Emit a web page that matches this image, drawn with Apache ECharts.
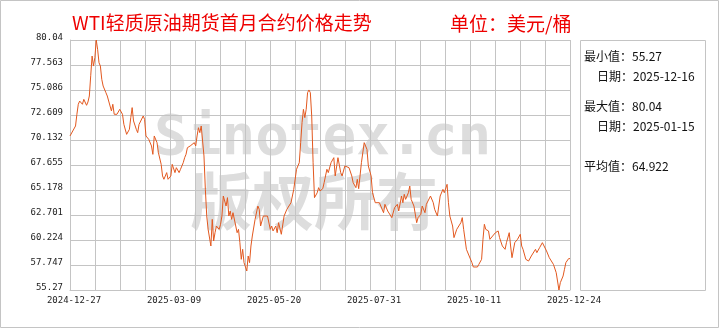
<!DOCTYPE html>
<html><head><meta charset="utf-8">
<script src="https://cdn.jsdelivr.net/npm/echarts@6/dist/echarts.min.js"></script>
<style>html,body{margin:0;padding:0;background:#fff}#c{width:720px;height:330px}</style>
</head><body><div id="c"></div>
<script>
const titleText = 'WTI轻质原油期货首月合约价格走势';
const unitText = '单位：美元/桶';
const watermarkTexts = ['Sinotex.cn', '版权所有'];
const statLabels = ['最小值：55.27', '日期：2025-12-16', '最大值：80.04', '日期：2025-01-15', '平均值：64.922'];
const xTickLabels = ['2024-12-27', '2025-03-09', '2025-05-20', '2025-07-31', '2025-10-11', '2025-12-24'];
const yMin = 55.27, yMax = 80.04, ySteps = 10;

const dates = [
'2024-12-27','2024-12-31',
'2025-01-01','2025-01-02','2025-01-03','2025-01-05','2025-01-06','2025-01-08','2025-01-09','2025-01-10','2025-01-11','2025-01-12','2025-01-13','2025-01-14','2025-01-15','2025-01-16','2025-01-17','2025-01-18','2025-01-19','2025-01-20','2025-01-22','2025-01-23','2025-01-25','2025-01-26','2025-01-27','2025-01-28','2025-01-30','2025-01-31',
'2025-02-01','2025-02-03','2025-02-04','2025-02-06','2025-02-07','2025-02-08','2025-02-09','2025-02-10','2025-02-11','2025-02-13','2025-02-14','2025-02-15','2025-02-16','2025-02-18','2025-02-19','2025-02-20','2025-02-22','2025-02-24','2025-02-25','2025-02-26','2025-02-28',
'2025-03-01','2025-03-03','2025-03-04','2025-03-05','2025-03-06','2025-03-07','2025-03-08','2025-03-09','2025-03-10','2025-03-11','2025-03-13','2025-03-14','2025-03-15','2025-03-16','2025-03-17','2025-03-19','2025-03-20','2025-03-21','2025-03-22','2025-03-24','2025-03-25','2025-03-27','2025-03-28','2025-03-29','2025-03-30','2025-03-31',
'2025-04-01','2025-04-02','2025-04-03','2025-04-04','2025-04-05','2025-04-06','2025-04-08','2025-04-09','2025-04-10','2025-04-11','2025-04-12','2025-04-14','2025-04-15','2025-04-16','2025-04-17','2025-04-19','2025-04-20','2025-04-21','2025-04-22','2025-04-23','2025-04-24','2025-04-26','2025-04-27','2025-04-28','2025-04-29','2025-04-30',
'2025-05-01','2025-05-02','2025-05-04','2025-05-05','2025-05-06','2025-05-07','2025-05-08','2025-05-10','2025-05-12','2025-05-13','2025-05-14','2025-05-16','2025-05-17','2025-05-19','2025-05-21','2025-05-22','2025-05-23','2025-05-25','2025-05-26','2025-05-27','2025-05-29','2025-05-31',
'2025-06-02','2025-06-03','2025-06-05','2025-06-07','2025-06-08','2025-06-09','2025-06-11','2025-06-12','2025-06-13','2025-06-14','2025-06-15','2025-06-16','2025-06-17','2025-06-18','2025-06-19','2025-06-20','2025-06-21','2025-06-22','2025-06-24','2025-06-25','2025-06-26','2025-06-28','2025-06-29',
'2025-07-01','2025-07-02','2025-07-04','2025-07-06','2025-07-07','2025-07-09','2025-07-11','2025-07-12','2025-07-14','2025-07-17','2025-07-19','2025-07-20','2025-07-22','2025-07-23','2025-07-24','2025-07-26','2025-07-28','2025-07-30','2025-07-31',
'2025-08-02','2025-08-03','2025-08-05','2025-08-08','2025-08-11','2025-08-12','2025-08-14','2025-08-15','2025-08-17','2025-08-19','2025-08-21','2025-08-22','2025-08-24','2025-08-25','2025-08-26','2025-08-27','2025-08-29','2025-08-30','2025-08-31',
'2025-09-02','2025-09-04','2025-09-05','2025-09-07','2025-09-08','2025-09-10','2025-09-11','2025-09-14','2025-09-16','2025-09-17','2025-09-19','2025-09-21','2025-09-23','2025-09-24','2025-09-26','2025-09-27','2025-09-28','2025-09-30',
'2025-10-01','2025-10-03','2025-10-06','2025-10-07','2025-10-08','2025-10-10','2025-10-11','2025-10-12','2025-10-14','2025-10-15','2025-10-18','2025-10-19','2025-10-21','2025-10-22','2025-10-23','2025-10-24','2025-10-26','2025-10-27','2025-10-29','2025-10-31',
'2025-11-02','2025-11-03','2025-11-05','2025-11-07','2025-11-08','2025-11-10','2025-11-11','2025-11-12','2025-11-14','2025-11-16','2025-11-18','2025-11-19','2025-11-20','2025-11-22','2025-11-23','2025-11-24','2025-11-26','2025-11-27','2025-11-29','2025-11-30',
'2025-12-02','2025-12-04','2025-12-05','2025-12-07','2025-12-09','2025-12-10','2025-12-12','2025-12-13','2025-12-14','2025-12-16','2025-12-17','2025-12-19','2025-12-20','2025-12-21','2025-12-23','2025-12-24'
];
const prices = [
70.53,71.52,
72.68,73.67,73.99,73.67,74.16,73.57,73.90,74.49,76.50,78.45,77.46,78.30,80.04,79.12,77.79,77.46,76.14,75.48,74.82,74.49,73.50,73.01,73.67,72.68,72.68,72.84,
73.17,72.68,71.68,70.69,70.53,71.19,72.35,73.34,72.02,71.19,70.86,71.68,71.52,72.51,72.18,70.53,70.20,69.54,68.71,70.53,69.87,
68.88,67.72,66.57,66.24,66.40,66.90,66.24,66.07,66.57,67.72,66.90,67.39,67.56,66.90,67.23,67.89,68.38,68.71,69.37,69.54,69.70,69.87,69.54,70.53,71.35,70.86,
71.52,71.68,68.55,65.24,62.60,61.28,59.63,62.27,60.13,60.95,61.61,61.28,61.78,62.60,64.58,63.59,64.42,62.60,63.10,62.27,62.93,61.61,60.95,61.28,59.96,58.31,
59.30,57.98,57.15,58.64,57.98,59.63,60.62,62.27,63.59,63.26,61.61,62.60,62.77,62.60,61.28,61.61,61.12,61.61,60.95,61.94,60.79,62.60,
63.26,63.10,63.92,65.24,65.08,67.23,67.89,69.87,71.85,73.17,72.35,73.17,74.82,75.09,74.82,72.51,67.89,64.42,64.91,65.41,65.08,65.31,65.91,
67.23,66.90,67.89,68.38,66.57,68.38,66.90,66.57,67.56,67.39,66.57,65.91,65.41,66.24,65.31,67.89,69.87,69.21,67.56,
66.57,64.91,63.92,63.92,62.93,63.76,63.10,63.26,62.44,63.43,63.76,63.10,64.58,63.92,64.75,64.25,64.91,65.57,64.25,
63.59,61.94,62.44,62.77,63.59,62.93,63.76,64.58,63.92,63.26,62.60,64.58,65.24,64.91,65.74,63.92,62.60,61.61,
60.46,61.28,61.94,62.44,61.28,59.30,59.47,58.64,57.98,57.55,57.55,57.81,58.31,60.29,61.78,61.28,61.12,60.29,60.62,60.95,
61.12,60.46,59.63,59.30,59.96,60.95,59.63,58.47,59.96,60.29,60.79,59.63,59.30,58.31,58.47,58.14,58.64,58.80,59.30,58.97,
59.47,59.96,60.13,59.14,58.47,58.31,57.81,57.65,56.99,55.27,56.00,56.66,57.32,57.98,58.38,58.38
];

const DAY = 86400000;
const t0 = Date.parse(xTickLabels[0]);
const tEnd = Date.parse(xTickLabels[xTickLabels.length - 1]);
const spanDays = (tEnd - t0) / DAY;
const xStep = spanDays / 20;
const yStep = (yMax - yMin) / ySteps;
const seriesData = dates.map((d, i) => [(Date.parse(d) - t0) / DAY, +(prices[i] - yMin).toFixed(4)]);

const gridColor = '#c4c4c4';
const chart = echarts.init(document.getElementById('c'), null, {renderer: 'canvas'});
const txt = (text, x, y, font, fill, z) => ({
  type: 'text', x: x, y: y, z: z || 10, silent: true,
  style: {text: text, font: font, fill: fill, align: 'left', verticalAlign: 'middle', textAlign: 'left', textVerticalAlign: 'middle'}
});
chart.setOption({
  animation: false,
  backgroundColor: '#fff',
  grid: {left: 70, top: 40, width: 500, height: 250, show: false},
  xAxis: {
    type: 'value', min: 0, max: spanDays, interval: xStep,
    axisLine: {show: true, lineStyle: {color: gridColor, width: 1}},
    axisTick: {show: false},
    splitLine: {show: true, lineStyle: {color: gridColor, width: 1}},
    axisLabel: {
      interval: 0, hideOverlap: false, showMinLabel: true, showMaxLabel: true,
      margin: 6, color: '#222', fontSize: 9, fontFamily: 'DejaVu Sans Mono',
      padding: [0, 0, 0, 8],
      formatter: v => { const i = Math.round(v / xStep); return i % 4 === 0 ? (xTickLabels[i / 4] || '') : ''; }
    }
  },
  yAxis: {
    type: 'value', min: 0, max: +(yMax - yMin).toFixed(4), interval: yStep,
    axisLine: {show: true, lineStyle: {color: gridColor, width: 1}},
    axisTick: {show: false},
    splitLine: {show: true, lineStyle: {color: gridColor, width: 1}},
    axisLabel: {
      margin: 7, color: '#222', fontSize: 9, fontFamily: 'DejaVu Sans Mono',
      verticalAlign: 'bottom', lineHeight: 5, showMinLabel: true, showMaxLabel: true,
      formatter: v => String(+(v + yMin).toFixed(3))
    }
  },
  series: [{
    type: 'line', data: seriesData, showSymbol: false, symbol: 'none',
    lineStyle: {color: '#E2581F', width: 1}, z: 5
  }],
  graphic: {elements: [
    {type: 'rect', z: -5, silent: true, shape: {x: 0.5, y: 0.5, width: 718, height: 327}, style: {fill: '#fff', stroke: gridColor, lineWidth: 1}},
    txt(watermarkTexts[0], 154, 139, 'bold 56px "DejaVu Sans Mono"', '#dddddd', -1),
    txt(watermarkTexts[1], 190, 201, 'bold 62px "Noto Sans CJK SC"', '#dddddd', -1),
    {type: 'rect', z: 1, silent: true, shape: {x: 580.5, y: 40.5, width: 125, height: 250}, style: {fill: 'none', stroke: gridColor, lineWidth: 1}},
    txt(titleText, 72, 23, '19px "Noto Sans CJK SC"', '#ee0000'),
    txt(unitText, 450, 24, '19px "Noto Sans CJK SC"', '#ee0000'),
    txt(statLabels[0], 584, 56, '12px "Noto Sans CJK SC"', '#111'),
    txt(statLabels[1], 597, 76, '12px "Noto Sans CJK SC"', '#111'),
    txt(statLabels[2], 584, 106, '12px "Noto Sans CJK SC"', '#111'),
    txt(statLabels[3], 597, 126, '12px "Noto Sans CJK SC"', '#111'),
    txt(statLabels[4], 584, 166, '12px "Noto Sans CJK SC"', '#111')
  ]}
});
</script></body></html>
